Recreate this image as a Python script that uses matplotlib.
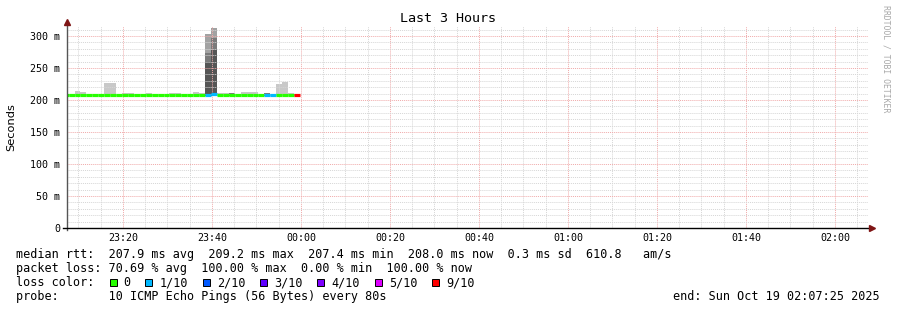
import numpy as np
import matplotlib
matplotlib.use("Agg")
import matplotlib.pyplot as plt
from matplotlib.ticker import MultipleLocator
from matplotlib.patches import Rectangle

# time axis in minutes relative to 00:00 (window 23:07:25 -> 02:07:25)
t_begin = -52.583
t_end = 127.417
step = 80 / 60.0          # 80 s rrd step
first_step = -53.55       # start of first (partly hidden) step

# median rtt per step (ms) and lost pings (of 10)
median_ms = [208.0, 208.0, 208.0, 208.0, 208.0, 208.0, 207.4, 207.4, 207.4, 208.0,
             208.0, 208.0, 208.0, 208.0, 207.4, 208.0, 208.0, 208.0, 208.0, 208.0,
             208.0, 208.0, 208.0, 208.0, 208.3, 209.2, 207.4, 207.4, 208.0, 208.0,
             208.0, 208.0, 208.0, 208.0, 208.0, 208.0, 208.0, 208.0, 208.0, 208.0]
loss = [0, 0, 0, 0, 0, 0, 0, 0, 0, 0,
        0, 0, 0, 0, 0, 0, 0, 0, 0, 0,
        0, 0, 0, 0, 1, 1, 0, 0, 0, 0,
        0, 0, 0, 0, 1, 1, 0, 0, 0, 9]

nan = np.nan
# smoke layers (top of each shade, ms)
smoke_pale = [208.6, 208.6, 214.5, 213.0, 209.0, 209.0, 209.0, 227.0, 227.0, 209.0,
              211.0, 211.0, 209.0, 209.0, 210.5, 209.0, 209.0, 209.0, 211.0, 211.0,
              209.0, 209.0, 213.0, 211.0, nan, nan, 211.0, 211.0, 209.0, 209.0,
              213.0, 213.0, 213.0, 209.0, 209.0, 209.0, 225.5, 228.5, 211.0, 209.0]
smoke_light = {24: 303.0, 25: 312.5}
smoke_mid = {24: 274.0, 25: 297.0, 28: 210.5, 34: 210.5}
smoke_dark = {24: 259.4, 25: 278.0}
smoke_floor = 206.5

loss_colors = {0: "#26ff00", 1: "#00b8ff", 2: "#0059ff", 3: "#5e00ff",
               4: "#7e00ff", 5: "#dd00ff", 9: "#ff0000"}
legend_loss = [0, 1, 2, 3, 4, 5, 9]
legend_labels = ["0", "1/10", "2/10", "3/10", "4/10", "5/10", "9/10"]

xtick_pos = [-40, -20, 0, 20, 40, 60, 80, 100, 120]
xtick_lab = ["23:20", "23:40", "00:00", "00:20", "00:40", "01:00", "01:20", "01:40", "02:00"]
ytick_pos = [0, 0.05, 0.10, 0.15, 0.20, 0.25, 0.30]
ytick_lab = ["0", "50 m", "100 m", "150 m", "200 m", "250 m", "300 m"]

rows = ["median rtt:  207.9 ms avg  209.2 ms max  207.4 ms min  208.0 ms now  0.3 ms sd  610.8   am/s",
        "packet loss: 70.69 % avg  100.00 % max  0.00 % min  100.00 % now",
        "loss color:",
        "probe:       10 ICMP Echo Pings (56 Bytes) every 80s"]
end_text = "end: Sun Oct 19 02:07:25 2025"

W, H = 897, 310
mono = "DejaVu Sans Mono"
fig = plt.figure(figsize=(W / 100, H / 100), dpi=100)
ax = fig.add_axes([67 / W, 1 - 228 / H, 801 / W, 202 / H])

starts = first_step + step * np.arange(len(median_ms))
med = np.array(median_ms) / 1000

# smoke
pale = np.array(smoke_pale) / 1000
ax.bar(starts, pale - smoke_floor / 1000, bottom=smoke_floor / 1000, width=step,
       align="edge", color="#c8c8c8", linewidth=0, zorder=1)
for layer, col in [(smoke_light, "#a2a2a2"), (smoke_mid, "#7a7a7a"), (smoke_dark, "#555555")]:
    idx = list(layer.keys())
    tops = np.array([layer[i] for i in idx]) / 1000
    ax.bar(starts[idx], tops - smoke_floor / 1000, bottom=smoke_floor / 1000, width=step,
           align="edge", color=col, linewidth=0, zorder=1)

# median coloured by loss
ax.hlines(med, starts, starts + step, colors=[loss_colors[l] for l in loss],
          linewidth=2.3, zorder=3)

ax.set_xlim(t_begin, t_end)
ax.set_ylim(0, 0.3156)
ax.set_xticks(xtick_pos)
ax.set_xticklabels(xtick_lab, family=mono, fontsize=7.2)
ax.set_yticks(ytick_pos)
ax.set_yticklabels(ytick_lab, family=mono, fontsize=7.2)
ax.xaxis.set_minor_locator(MultipleLocator(5))
ax.yaxis.set_minor_locator(MultipleLocator(0.01))
ax.tick_params(which="both", length=0)
ax.tick_params(axis="x", pad=3.5)
ax.tick_params(axis="y", pad=5)
for s in ax.spines.values():
    s.set_visible(False)
ax.set_axisbelow(False)
ax.grid(which="minor", color="#d6d6d6", linewidth=0.7, linestyle=(0, (1, 1)))
ax.grid(which="major", color="#f0aaaa", linewidth=0.7, linestyle=(0, (1, 1)))

# axes with arrows
ax.plot([0, 0], [-0.01, 1.015], transform=ax.transAxes, color="#555555", lw=1.0, clip_on=False, zorder=4)
ax.plot([-0.005, 1.003], [0, 0], transform=ax.transAxes, color="#000000", lw=1.0, clip_on=False, zorder=4)
ax.plot(0, 1.02, marker="^", ms=4, color="#7f1515", transform=ax.transAxes, clip_on=False, zorder=5)
ax.plot(1.005, 0, marker=">", ms=4, color="#7f1515", transform=ax.transAxes, clip_on=False, zorder=5)


def ftext(x, y, s, **kw):
    fig.text(x / W, 1 - y / H, s, **kw)


ftext(448, 19, "Last 3 Hours", ha="center", va="center", fontsize=9.6, family=mono)
ftext(11, 127, "Seconds", ha="center", va="center", rotation=90, fontsize=8.2, family="DejaVu Sans")
ftext(886, 5, "RRDTOOL / TOBI OETIKER", ha="center", va="top", rotation=-90,
      fontsize=5.9, family=mono, color="#a8a8a8")

# legend block
cw = 7.17
x0 = 16
row_y = [254.3, 268.3, 282.7, 296.7]
for s, y in zip(rows, row_y):
    ftext(x0, y, s, ha="left", va="center", fontsize=8.5, family=mono)
col = 13
for l, lab in zip(legend_loss, legend_labels):
    bx = x0 + col * cw + 0.3
    fig.add_artist(Rectangle((bx / W, 1 - (row_y[2] + 3.5) / H), 7 / W, 7 / H,
                             transform=fig.transFigure, facecolor=loss_colors[l],
                             edgecolor="black", linewidth=0.7))
    ftext(x0 + (col + 2) * cw, row_y[2], lab, ha="left", va="center", fontsize=8.5, family=mono)
    col += 2 + len(lab) + 2
ftext(880, row_y[3], end_text, ha="right", va="center", fontsize=8.5, family=mono)

fig.savefig("out.png", dpi=100)
